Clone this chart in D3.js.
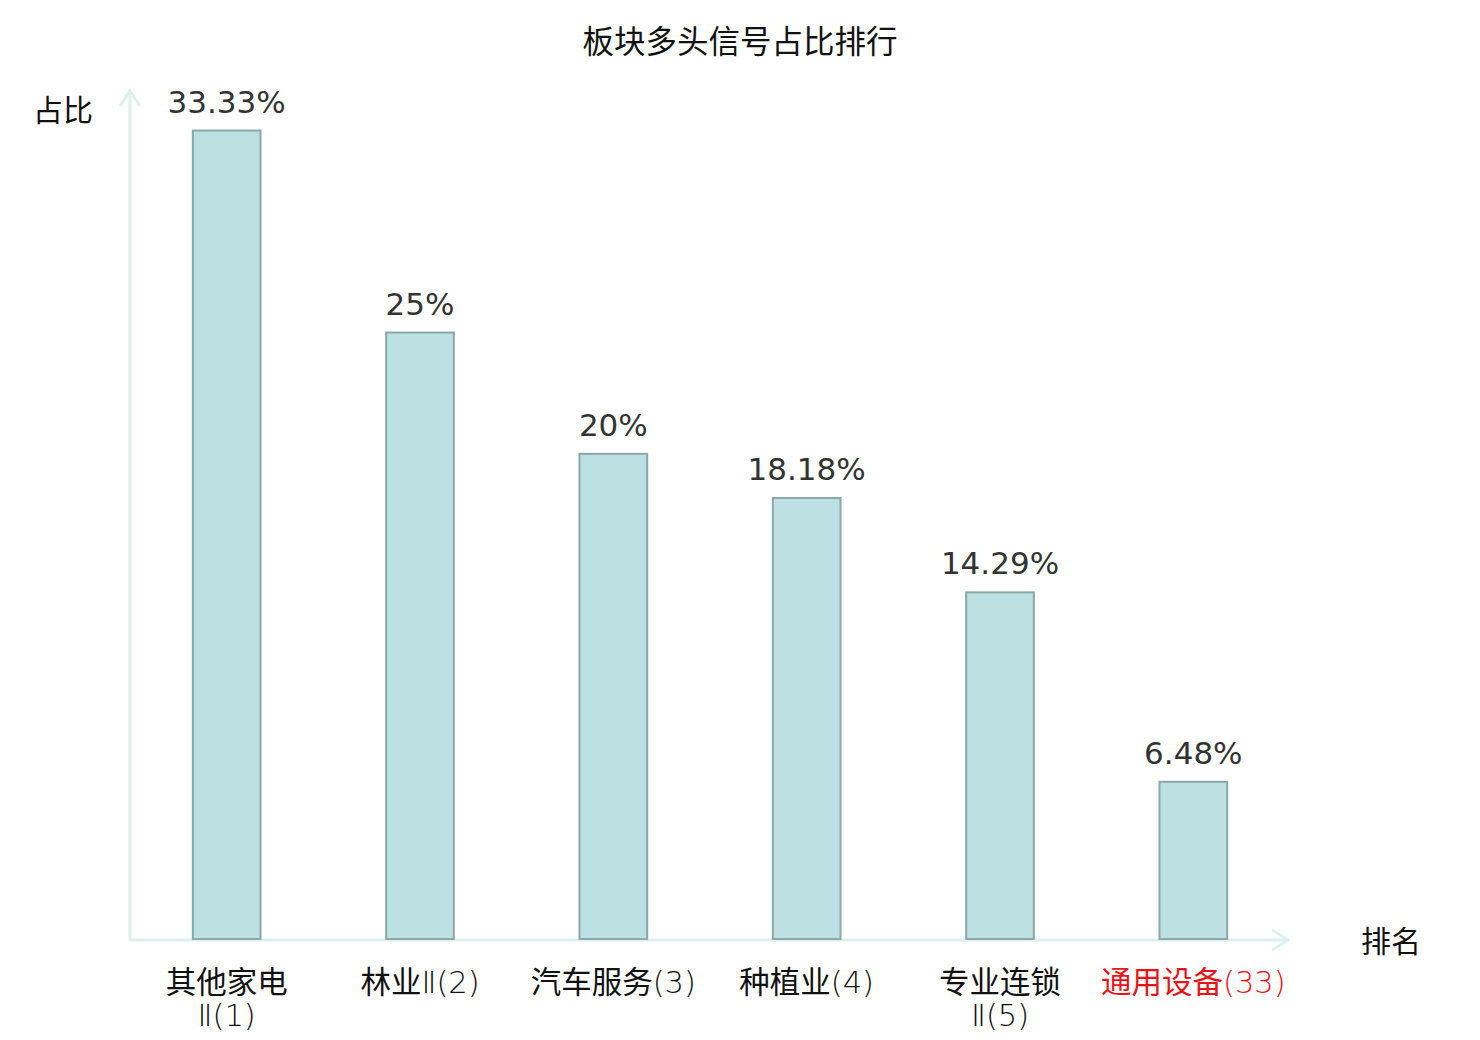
<!DOCTYPE html>
<html>
<head>
<meta charset="utf-8">
<script src="https://cdn.jsdelivr.net/npm/d3@7"></script>
<style>
  body { margin: 0; background: #fff; }
  svg text { font-family: "DejaVu Sans", "Noto Sans CJK SC", sans-serif; }
  svg text.cat { font-weight: 200; }
  svg text.cat tspan.han { font-weight: 400; }
</style>
</head>
<body>
<svg id="chart" width="1480" height="1040"></svg>
<script>
// data
var categories = ["其他家电\nⅡ(1)", "林业Ⅱ(2)", "汽车服务(3)", "种植业(4)", "专业连锁\nⅡ(5)", "通用设备(33)"];
var values = [33.33, 25, 20, 18.18, 14.29, 6.48];
var valueLabels = ["33.33%", "25%", "20%", "18.18%", "14.29%", "6.48%"];
var highlight = [false, false, false, false, false, true];

var svg = d3.select("#chart");

var x = d3.scaleBand()
    .domain(d3.range(categories.length))
    .range([130, 1290])
    .paddingInner(0.65)
    .paddingOuter(0.325);

var y = d3.scaleLinear()
    .domain([0, 35])
    .range([939, 90]);

var axisColor = "#dcf1ee";

// title
svg.append("text")
    .attr("x", 740).attr("y", 53)
    .attr("text-anchor", "middle")
    .attr("font-size", 31.5)
    .attr("fill", "#111")
    .text("板块多头信号占比排行");

// axes
svg.append("line")
    .attr("x1", 130).attr("y1", 940).attr("x2", 130).attr("y2", 90)
    .attr("stroke", axisColor).attr("stroke-width", 3);
svg.append("path")
    .attr("d", "M120,106 L130,91 L140,106")
    .attr("fill", "none").attr("stroke", axisColor).attr("stroke-width", 3);

svg.append("line")
    .attr("x1", 129).attr("y1", 940).attr("x2", 1289).attr("y2", 940)
    .attr("stroke", axisColor).attr("stroke-width", 3);
svg.append("path")
    .attr("d", "M1272,930 L1288,940 L1272,950")
    .attr("fill", "none").attr("stroke", axisColor).attr("stroke-width", 3);

svg.append("text")
    .attr("x", 33).attr("y", 121)
    .attr("font-size", 30).attr("fill", "#111")
    .text("占比");
svg.append("text")
    .attr("x", 1361).attr("y", 952)
    .attr("font-size", 30).attr("fill", "#111")
    .text("排名");

// bars
svg.selectAll(".bar")
    .data(values)
    .enter().append("rect")
    .classed("bar", true)
    .attr("x", function (d, i) { return x(i); })
    .attr("y", function (d) { return y(d); })
    .attr("width", x.bandwidth())
    .attr("height", function (d) { return y(0) - y(d); })
    .attr("fill", "#bde0e3")
    .attr("stroke", "#8ba8a9")
    .attr("stroke-width", 2);

// value labels
svg.selectAll(".val")
    .data(values)
    .enter().append("text")
    .classed("val", true)
    .attr("x", function (d, i) { return x(i) + x.bandwidth() / 2; })
    .attr("y", function (d) { return y(d) - 18; })
    .attr("text-anchor", "middle")
    .attr("font-size", 31)
    .attr("fill", "#333")
    .text(function (d, i) { return valueLabels[i]; });

// category labels, one text per line; han characters regular, the rest thin
categories.forEach(function (d, i) {
    d.split("\n").forEach(function (line, j) {
        var t = svg.append("text")
            .classed("cat", true)
            .attr("x", x(i) + x.bandwidth() / 2)
            .attr("y", 993 + j * 33)
            .attr("text-anchor", "middle")
            .attr("font-size", 30.5)
            .attr("fill", highlight[i] ? "#e8141a" : "#111");
        line.match(/[\u4e00-\u9fff]+|[^\u4e00-\u9fff]+/g).forEach(function (run) {
            t.append("tspan")
                .classed("han", /[\u4e00-\u9fff]/.test(run))
                .text(run);
        });
    });
});
</script>
</body>
</html>
